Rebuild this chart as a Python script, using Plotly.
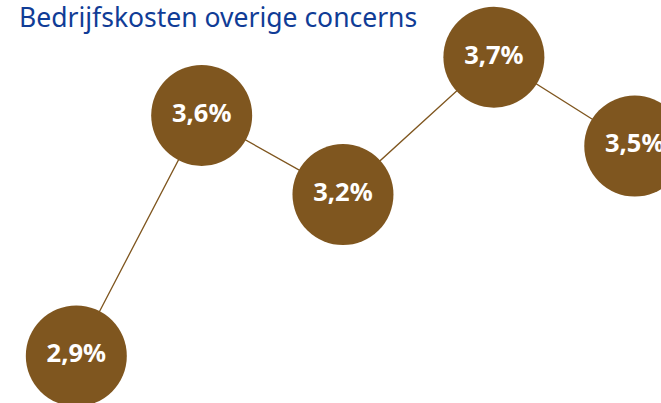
import plotly.graph_objects as go

# Data
labels = ["2,9%", "3,6%", "3,2%", "3,7%", "3,5%"]
# horizontal positions of the five points (in index units, as drawn)
x_pos = [0.0, 0.898, 1.910, 2.991, 4.0]
# vertical positions of the points (estimated percent values as drawn)
y_val = [2.9, 3.544, 3.332, 3.7, 3.462]

title = "Bedrijfskosten overige concerns"

brown = "#7F561F"
blue = "#103C96"

fig = go.Figure()
fig.add_trace(go.Scatter(
    x=x_pos, y=y_val,
    mode="lines+markers+text",
    line=dict(color=brown, width=1.3),
    marker=dict(size=101, color=brown, line=dict(width=0)),
    text=labels,
    textposition="middle center",
    textfont=dict(family="Noto Sans", size=25.5, color="white", weight="bold"),
    cliponaxis=False,
    hoverinfo="skip",
))

fig.add_annotation(
    text=title, xref="paper", yref="paper",
    x=17 / 661, y=1 - 17 / 403, xanchor="left", yanchor="middle",
    showarrow=False,
    font=dict(family="Noto Sans", size=26.5, color=blue),
)

fig.update_layout(
    width=661, height=403, autosize=False,
    margin=dict(l=0, r=0, t=0, b=0),
    paper_bgcolor="white", plot_bgcolor="white",
    showlegend=False,
    hovermode=False,
    xaxis=dict(range=[-0.5466, 4.188], visible=False, fixedrange=True),
    yaxis=dict(range=[2.774, 3.853], visible=False, fixedrange=True),
)

fig.write_html(
    "out.html",
    config={"displayModeBar": False, "staticPlot": True},
    post_script="document.body.style.margin='0';document.body.style.overflow='hidden';",
)
